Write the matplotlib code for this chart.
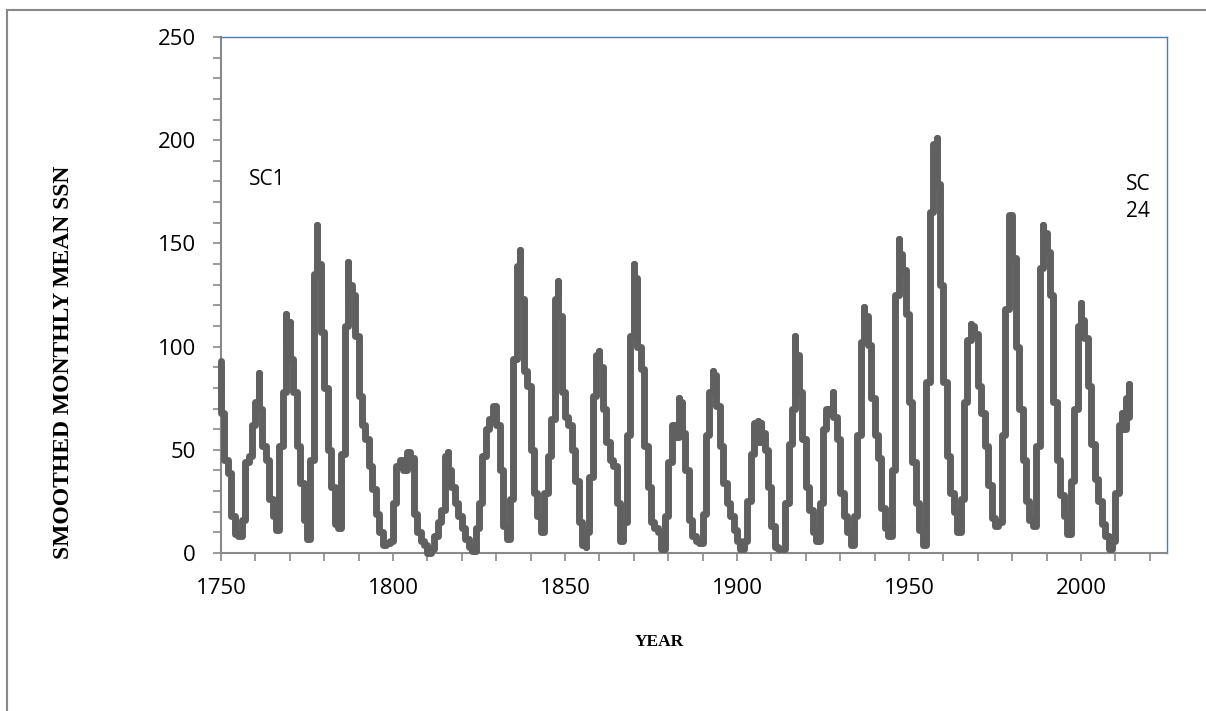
import matplotlib
matplotlib.use("Agg")
import matplotlib.pyplot as plt
from matplotlib.ticker import MultipleLocator, FuncFormatter
from matplotlib.lines import Line2D

# smoothed monthly mean sunspot number, value reached at the end of each year
years = list(range(1750, 2015))
ssn_start = 93
ssn_end = [
    68, 45, 39, 18, 9, 8, 16, 44, 47, 62,        # 1750s
    73, 70, 52, 45, 26, 18, 11, 52, 78, 100,     # 1760s
    94, 78, 52, 34, 16, 7, 45, 135, 140, 107,    # 1770s
    80, 50, 32, 14, 12, 48, 110, 130, 125, 105,  # 1780s
    76, 62, 55, 42, 31, 19, 10, 4, 5, 6,         # 1790s
    24, 42, 45, 40, 49, 46, 19, 10, 6, 4,        # 1800s
    0, 2, 8, 15, 21, 47, 40, 32, 24, 18,         # 1810s
    12, 7, 3, 1, 12, 24, 47, 60, 65, 71,         # 1820s
    62, 40, 13, 7, 26, 94, 139, 123, 88, 81,     # 1830s
    50, 29, 18, 10, 29, 47, 65, 123, 115, 78,    # 1840s
    66, 62, 50, 35, 15, 4, 10, 37, 76, 96,       # 1850s
    90, 70, 54, 45, 42, 24, 6, 15, 57, 105,      # 1860s
    133, 100, 89, 52, 32, 15, 12, 10, 2, 18,     # 1870s
    44, 62, 56, 73, 58, 40, 16, 8, 6, 5,         # 1880s
    19, 57, 78, 86, 71, 52, 34, 24, 18, 11,      # 1890s
    6, 2, 6, 25, 48, 63, 54, 58, 50, 32,         # 1900s
    13, 3, 2, 2, 24, 53, 70, 96, 78, 55,         # 1910s
    32, 21, 10, 6, 24, 60, 70, 68, 66, 55,       # 1920s
    29, 18, 10, 4, 18, 57, 102, 115, 101, 75,    # 1930s
    57, 46, 22, 12, 8, 40, 125, 145, 137, 116,   # 1940s
    73, 44, 24, 11, 4, 83, 165, 198, 179, 130,   # 1950s
    83, 47, 29, 20, 10, 26, 73, 103, 110, 106,   # 1960s
    81, 68, 52, 33, 17, 13, 15, 57, 118, 164,    # 1970s
    143, 100, 70, 45, 25, 16, 13, 52, 138, 155,  # 1980s
    146, 125, 73, 45, 28, 18, 9, 35, 70, 110,    # 1990s
    113, 104, 81, 53, 36, 25, 14, 8, 2, 6,       # 2000s
    29, 62, 60, 75, 66,                          # 2010-2014
]
# in-year extremes (cycle maxima etc.)
extreme_years = [1761, 1769, 1770, 1778, 1787, 1816, 1837, 1848, 1856, 1860,
                 1870, 1883, 1893, 1906, 1907, 1917, 1928, 1937, 1947, 1958,
                 1968, 1989, 2000, 2012, 2014]
extreme_values = [87, 116, 112, 159, 141, 49, 147, 132, 3, 98,
                  140, 75, 88, 64, 63, 105, 78, 119, 152, 201,
                  111, 159, 121, 68, 82]

extremes = dict(zip(extreme_years, extreme_values))
xs, ys = [], []
prev = ssn_start
for yr, v in zip(years, ssn_end):
    xs.append(yr)
    ys.append(prev)
    if yr in extremes:
        xs.append(yr)
        ys.append(extremes[yr])
    xs.append(yr)
    ys.append(v)
    prev = v

tick_font = "Open Sans"
label_font = "Liberation Serif"
axis_gray = "#898989"
blue = "#4a7ebb"

fig = plt.figure(figsize=(12.06, 7.11), dpi=100)
ax = fig.add_axes([221 / 1206, 158 / 711, 946 / 1206, 516 / 711])

ax.plot(xs, ys, color="#606060", linewidth=5.0, solid_joinstyle="round",
        solid_capstyle="round", clip_on=False, zorder=3)

ax.set_xlim(1750, 2025)
ax.set_ylim(0, 250)
ax.xaxis.set_major_locator(MultipleLocator(10))
ax.yaxis.set_major_locator(MultipleLocator(10))
ax.xaxis.set_major_formatter(FuncFormatter(lambda v, p: "%d" % v if round(v) % 50 == 0 else ""))
ax.yaxis.set_major_formatter(FuncFormatter(lambda v, p: "%d" % v if round(v) % 50 == 0 else ""))
ax.tick_params(axis="both", direction="out", length=6, width=1.2, color=axis_gray,
               labelsize=16, pad=12)
for lab in ax.get_xticklabels() + ax.get_yticklabels():
    lab.set_fontfamily(tick_font)

for side in ["left", "bottom"]:
    ax.spines[side].set_color(axis_gray)
    ax.spines[side].set_linewidth(1.5)
for side in ["top", "right"]:
    ax.spines[side].set_color(blue)
    ax.spines[side].set_linewidth(1.0)

fig.text(659 / 1206, 1 - 642 / 711, "YEAR", fontfamily=label_font, fontweight="bold",
         fontsize=12.5, ha="center", va="center")
fig.text(64 / 1206, 1 - 362 / 711, "SMOOTHED MONTHLY MEAN SSN", rotation=90,
         fontfamily=label_font, fontweight="bold", fontsize=17,
         ha="center", va="center")

ax.text(1758.0, 181, "SC1", fontfamily=tick_font, fontsize=15, ha="left", va="center")
ax.text(2013.0, 172, "SC\n24", fontfamily=tick_font, fontsize=15, ha="left", va="center",
        linespacing=1.4)

# outer chart border
fig.add_artist(Line2D([7 / 1206, 1], [1 - 10 / 711, 1 - 10 / 711], color=axis_gray, linewidth=1.5))
fig.add_artist(Line2D([7 / 1206, 7 / 1206], [0, 1 - 10 / 711], color=axis_gray, linewidth=1.5))

fig.savefig("out.png", dpi=100)
